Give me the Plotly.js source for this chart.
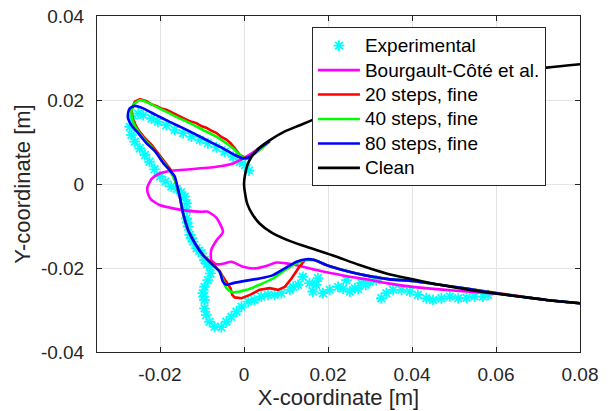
<!DOCTYPE html>
<html>
<head>
<meta charset="utf-8">
<script src="https://cdn.plot.ly/plotly-3.0.1.min.js"></script>
<style>html,body{margin:0;padding:0;background:#fff;}#chart{width:608px;height:411px;}</style>
</head>
<body>
<div id="chart"></div>
<script>
// ---- Data ----
const seriesNames = ["Experimental", "Bourgault-Côté et al.", "20 steps, fine", "40 steps, fine", "80 steps, fine", "Clean"];

const expX = [0.0012,0.0003,-0.0010,-0.0026,-0.0046,-0.0066,-0.0086,-0.0105,-0.0125,-0.0145,-0.0165,-0.0185,-0.0205,-0.0220,-0.0240,-0.0252,-0.0266,-0.0272,-0.0268,-0.0260,-0.0248,-0.0236,-0.0225,-0.0213,-0.0200,-0.0187,-0.0173,-0.0160,-0.0150,-0.0141,-0.0137,-0.0136,-0.0137,-0.0135,-0.0133,-0.0129,-0.0125,-0.0121,-0.0113,-0.0107,-0.0101,-0.0094,-0.0088,-0.0082,-0.0080,-0.0086,-0.0094,-0.0098,-0.0096,-0.0094,-0.0094,-0.0090,-0.0082,-0.0070,-0.0054,-0.0042,-0.0030,-0.0018,-0.0006,0.0010,0.0025,0.0041,0.0057,0.0073,0.0089,0.0109,0.0117,0.0129,0.0140,0.0156,0.0164,0.0172,0.0176,0.0188,0.0204,0.0224,0.0236,0.0244,0.0252,0.0264,0.0272,0.0280,0.0290,0.0299,0.0315,0.0327,0.0339,0.0355,0.0375,0.0395,0.0414,0.0434,0.0450,0.0470,0.0490,0.0510,0.0530,0.0549,0.0569,0.0581];
const expY = [0.0032,0.0045,0.0053,0.0065,0.0077,0.0087,0.0097,0.0105,0.0113,0.0121,0.0129,0.0140,0.0148,0.0156,0.0164,0.0168,0.0156,0.0136,0.0117,0.0101,0.0085,0.0069,0.0053,0.0035,0.0018,0.0006,-0.0006,-0.0012,-0.0020,-0.0030,-0.0046,-0.0062,-0.0082,-0.0092,-0.0102,-0.0121,-0.0129,-0.0137,-0.0153,-0.0159,-0.0165,-0.0181,-0.0190,-0.0197,-0.0213,-0.0229,-0.0245,-0.0260,-0.0268,-0.0276,-0.0296,-0.0312,-0.0328,-0.0340,-0.0341,-0.0328,-0.0316,-0.0304,-0.0292,-0.0280,-0.0276,-0.0268,-0.0264,-0.0264,-0.0260,-0.0252,-0.0245,-0.0240,-0.0221,-0.0236,-0.0256,-0.0240,-0.0224,-0.0260,-0.0252,-0.0245,-0.0249,-0.0229,-0.0256,-0.0248,-0.0250,-0.0236,-0.0240,-0.0233,-0.0229,-0.0272,-0.0260,-0.0252,-0.0252,-0.0256,-0.0264,-0.0272,-0.0276,-0.0272,-0.0268,-0.0272,-0.0271,-0.0268,-0.0268,-0.0264];

const bcX = [0.0061,0.0030,-0.0002,-0.0026,-0.0066,-0.0129,-0.0169,-0.0201,-0.0220,-0.0230,-0.0229,-0.0222,-0.0201,-0.0169,-0.0133,-0.0100,-0.0086,-0.0066,-0.0050,-0.0066,-0.0078,-0.0078,-0.0066,-0.0050,-0.0030,-0.0002,0.0025,0.0053,0.0077,0.0101,0.0133,0.0172,0.0212,0.0252,0.0291,0.0339,0.0402,0.0466,0.0530,0.0593,0.0656,0.0720,0.0800];
const bcY = [0.0104,0.0081,0.0061,0.0049,0.0041,0.0035,0.0032,0.0025,0.0012,-0.0008,-0.0022,-0.0036,-0.0050,-0.0058,-0.0064,-0.0066,-0.0066,-0.0080,-0.0114,-0.0135,-0.0157,-0.0181,-0.0191,-0.0190,-0.0185,-0.0197,-0.0201,-0.0195,-0.0187,-0.0189,-0.0195,-0.0205,-0.0213,-0.0221,-0.0227,-0.0236,-0.0245,-0.0251,-0.0256,-0.0260,-0.0268,-0.0276,-0.0284];

const s20X = [0.0061,0.0035,0.0008,-0.0010,-0.0022,-0.0032,-0.0042,-0.0054,-0.0066,-0.0078,-0.0090,-0.0102,-0.0113,-0.0125,-0.0137,-0.0149,-0.0161,-0.0173,-0.0185,-0.0197,-0.0209,-0.0221,-0.0232,-0.0248,-0.0260,-0.0268,-0.0264,-0.0252,-0.0236,-0.0220,-0.0205,-0.0189,-0.0177,-0.0166,-0.0159,-0.0153,-0.0145,-0.0133,-0.0117,-0.0098,-0.0074,-0.0058,-0.0050,-0.0040,-0.0032,-0.0028,-0.0022,-0.0006,0.0014,0.0037,0.0061,0.0081,0.0097,0.0113,0.0129,0.0145,0.0168,0.0196,0.0228,0.0268,0.0307,0.0347,0.0402,0.0466,0.0530,0.0593,0.0656,0.0720,0.0800];
const s20Y = [0.0102,0.0080,0.0060,0.0069,0.0085,0.0097,0.0106,0.0112,0.0122,0.0127,0.0134,0.0138,0.0145,0.0148,0.0153,0.0159,0.0165,0.0170,0.0177,0.0180,0.0186,0.0190,0.0197,0.0202,0.0196,0.0176,0.0152,0.0129,0.0109,0.0093,0.0073,0.0053,0.0037,0.0017,-0.0006,-0.0030,-0.0070,-0.0110,-0.0141,-0.0169,-0.0191,-0.0207,-0.0221,-0.0236,-0.0248,-0.0264,-0.0270,-0.0272,-0.0264,-0.0252,-0.0248,-0.0252,-0.0245,-0.0225,-0.0201,-0.0181,-0.0181,-0.0193,-0.0203,-0.0213,-0.0221,-0.0227,-0.0231,-0.0240,-0.0249,-0.0259,-0.0268,-0.0276,-0.0284];

const s40X = [0.0061,0.0035,0.0008,-0.0002,-0.0010,-0.0022,-0.0042,-0.0066,-0.0098,-0.0129,-0.0161,-0.0193,-0.0225,-0.0248,-0.0264,-0.0268,-0.0265,-0.0253,-0.0236,-0.0218,-0.0200,-0.0185,-0.0170,-0.0160,-0.0153,-0.0145,-0.0133,-0.0117,-0.0098,-0.0074,-0.0058,-0.0050,-0.0046,-0.0038,-0.0026,0.0006,0.0037,0.0069,0.0097,0.0125,0.0145,0.0168,0.0196,0.0228,0.0268,0.0307,0.0347,0.0402,0.0466,0.0530,0.0593,0.0656,0.0720,0.0800];
const s40Y = [0.0102,0.0080,0.0060,0.0063,0.0069,0.0081,0.0097,0.0113,0.0129,0.0145,0.0160,0.0176,0.0192,0.0200,0.0188,0.0172,0.0150,0.0127,0.0105,0.0085,0.0063,0.0043,0.0020,-0.0004,-0.0030,-0.0070,-0.0110,-0.0141,-0.0169,-0.0193,-0.0209,-0.0228,-0.0240,-0.0252,-0.0258,-0.0252,-0.0240,-0.0225,-0.0205,-0.0189,-0.0181,-0.0181,-0.0193,-0.0203,-0.0213,-0.0221,-0.0227,-0.0231,-0.0240,-0.0249,-0.0259,-0.0268,-0.0276,-0.0284];

const s80X = [0.0061,0.0037,0.0025,0.0010,-0.0002,-0.0022,-0.0050,-0.0082,-0.0113,-0.0145,-0.0177,-0.0209,-0.0240,-0.0260,-0.0272,-0.0276,-0.0276,-0.0268,-0.0252,-0.0232,-0.0211,-0.0193,-0.0177,-0.0165,-0.0159,-0.0153,-0.0145,-0.0133,-0.0117,-0.0098,-0.0074,-0.0058,-0.0050,-0.0042,-0.0026,0.0006,0.0037,0.0069,0.0097,0.0125,0.0149,0.0168,0.0196,0.0228,0.0268,0.0307,0.0347,0.0402,0.0466,0.0530,0.0593,0.0656,0.0720,0.0800];
const s80Y = [0.0102,0.0085,0.0073,0.0063,0.0061,0.0069,0.0085,0.0101,0.0117,0.0133,0.0148,0.0164,0.0180,0.0186,0.0180,0.0168,0.0156,0.0140,0.0121,0.0097,0.0077,0.0051,0.0033,0.0018,-0.0004,-0.0030,-0.0070,-0.0110,-0.0141,-0.0169,-0.0193,-0.0209,-0.0233,-0.0240,-0.0236,-0.0230,-0.0225,-0.0217,-0.0201,-0.0185,-0.0179,-0.0181,-0.0193,-0.0203,-0.0213,-0.0221,-0.0227,-0.0231,-0.0240,-0.0249,-0.0259,-0.0268,-0.0276,-0.0284];

const cleanX = [0.0800,0.0720,0.0656,0.0593,0.0530,0.0466,0.0402,0.0339,0.0275,0.0212,0.0162,0.0133,0.0095,0.0061,0.0035,0.0018,0.0008,0.0003,0.0000,0.0003,0.0008,0.0020,0.0037,0.0065,0.0110,0.0160,0.0212,0.0275,0.0339,0.0402,0.0466,0.0530,0.0593,0.0656,0.0720,0.0800];
const cleanY = [0.0285,0.0277,0.0269,0.0261,0.0252,0.0241,0.0228,0.0214,0.0194,0.0171,0.0152,0.0140,0.0124,0.0104,0.0085,0.0065,0.0045,0.0025,0.0000,-0.0025,-0.0048,-0.0072,-0.0094,-0.0115,-0.0136,-0.0153,-0.0170,-0.0193,-0.0213,-0.0227,-0.0240,-0.0251,-0.0260,-0.0268,-0.0276,-0.0284];

const xTickVals = [-0.02, 0, 0.02, 0.04, 0.06, 0.08];
const xTickText = ["-0.02", "0", "0.02", "0.04", "0.06", "0.08"];
const yTickVals = [-0.04, -0.02, 0, 0.02, 0.04];
const yTickText = ["-0.04", "-0.02", "0", "0.02", "0.04"];

// ---- Traces ----
const FONT = "Liberation Sans, Arial, sans-serif";
const lbl = s => '<span style="font-size:19px">' + s + '</span>';
const traces = [
  {x: expX, y: expY, name: lbl(seriesNames[0]), mode: "markers", type: "scatter",
   marker: {symbol: "asterisk-open", size: 9, color: "#00ffff", line: {color: "#00ffff", width: 1.8}}},
  {x: bcX, y: bcY, name: lbl(seriesNames[1]), mode: "lines", type: "scatter",
   line: {color: "#ff00ff", width: 2.6, shape: "spline", smoothing: 0.6}},
  {x: s20X, y: s20Y, name: lbl(seriesNames[2]), mode: "lines", type: "scatter",
   line: {color: "#ff0000", width: 2.6}},
  {x: s40X, y: s40Y, name: lbl(seriesNames[3]), mode: "lines", type: "scatter",
   line: {color: "#00ff00", width: 2.6, shape: "spline", smoothing: 0.5}},
  {x: s80X, y: s80Y, name: lbl(seriesNames[4]), mode: "lines", type: "scatter",
   line: {color: "#0000ff", width: 2.6, shape: "spline", smoothing: 0.5}},
  {x: cleanX, y: cleanY, name: lbl(seriesNames[5]), mode: "lines", type: "scatter",
   line: {color: "#000000", width: 2.6, shape: "spline", smoothing: 1}}
];

const axisCommon = {
  showline: true, linecolor: "#262626", linewidth: 1, mirror: "ticks",
  ticks: "inside", ticklen: 5, tickwidth: 1, tickcolor: "#262626",
  showgrid: true, gridcolor: "#e3e3e3", gridwidth: 1, zeroline: false,
  tickfont: {family: FONT, size: 19, color: "#262626"}
};

const layout = {
  width: 608, height: 411,
  margin: {l: 97, r: 28, t: 16, b: 59},
  paper_bgcolor: "#ffffff", plot_bgcolor: "#ffffff",
  font: {family: FONT, color: "#262626"},
  showlegend: true,
  xaxis: Object.assign({}, axisCommon, {
    range: [-0.035, 0.08], tickvals: xTickVals, ticktext: xTickText,
    ticklabelstandoff: 5,
    title: {text: "X-coordinate [m]", font: {family: FONT, size: 22, color: "#262626"}, standoff: 3}
  }),
  yaxis: Object.assign({}, axisCommon, {
    range: [-0.04, 0.04], tickvals: yTickVals, ticktext: yTickText,
    ticklabelstandoff: 8,
    title: {text: "Y-coordinate [m]", font: {family: FONT, size: 22, color: "#262626"}, standoff: 4}
  }),
  legend: {
    x: 0.445, y: 0.966, xanchor: "left", yanchor: "top",
    bgcolor: "#ffffff", bordercolor: "#262626", borderwidth: 1,
    font: {family: FONT, size: 16.5, color: "#000000"},
    itemwidth: 42, tracegroupgap: 0
  }
};

Plotly.newPlot("chart", traces, layout, {staticPlot: true, displayModeBar: false});
</script>
</body>
</html>
